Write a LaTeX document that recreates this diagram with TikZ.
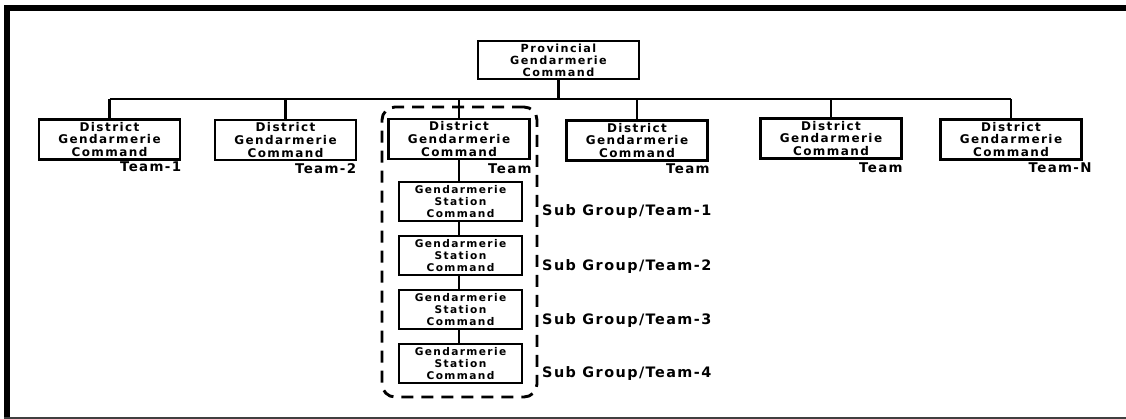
\documentclass[tikz,border=0pt]{standalone}
\usepackage{fontspec}
\usetikzlibrary{calc}
% wide bold faces for box and label text
\newfontfamily\dfont[LetterSpace=12]{DejaVu Sans Bold}
\newfontfamily\pfont[LetterSpace=13]{DejaVu Sans Bold}
\newfontfamily\sfont[LetterSpace=13]{DejaVu Sans Bold}
\newfontfamily\tfont[LetterSpace=10]{DejaVu Sans Bold}
\newfontfamily\gfont[LetterSpace=10]{DejaVu Sans Bold}
\begin{document}
\begin{tikzpicture}[x=1pt, y=-1pt,
  unit/.style={draw, line width=2.6pt, inner sep=0pt, align=center, fill=white},
  dgc/.style={unit, minimum width=141pt, minimum height=40pt,
    font=\dfont\fontsize{12}{12.6}\selectfont},
  pgc/.style={unit, minimum width=161pt, minimum height=38pt,
    font=\pfont\fontsize{11.2}{12}\selectfont},
  gsc/.style={unit, minimum width=123pt, minimum height=39pt,
    font=\sfont\fontsize{10.6}{11.6}\selectfont},
  teamlbl/.style={anchor=east, inner sep=0pt, font=\tfont\fontsize{13.4}{14}\selectfont},
  sublbl/.style={anchor=west, inner sep=0pt, font=\gfont\fontsize{14.4}{15}\selectfont},
  link/.style={line width=2.5pt},
  grpline/.style={line width=2.9pt, dash pattern=on 12pt off 8pt, rounded corners=13pt}]
\useasboundingbox (0,0) rectangle (1126,419);

% outer frame
\draw[line width=6pt] (7,419) -- (7,8) -- (1126,8);
\draw[line width=2pt, black!75] (4,417.8) -- (1126,417.8);

% provincial command
\node[pgc] (pgc) at (558.5,60) {Provincial\\Gendarmerie\\Command};

% district commands
\node[dgc] (d1) at (109.5,139.5) {District\\Gendarmerie\\Command};
\node[dgc] (d2) at (285.5,140) {District\\Gendarmerie\\Command};
\node[dgc] (d3) at (459,139) {District\\Gendarmerie\\Command};
\node[dgc] (d4) at (637,140.5) {District\\Gendarmerie\\Command};
\node[dgc] (d5) at (831,138.5) {District\\Gendarmerie\\Command};
\node[dgc] (d6) at (1011,139.5) {District\\Gendarmerie\\Command};

% team labels
\node[teamlbl] (t1) at ($(d1.south east)+(0,6)$) {Team-1};
\node[teamlbl] (t2) at ($(d2.south east)+(-1,7)$) {Team-2};
\node[teamlbl] (t3) at ($(d3.south east)+(1,8)$) {Team};
\node[teamlbl] (t4) at ($(d4.south east)+(1,7)$) {Team};
\node[teamlbl] (t5) at ($(d5.south east)+(0,8)$) {Team};
\node[teamlbl] (t6) at ($(d6.south east)+(9,6.5)$) {Team-N};

% station commands
\node[gsc] (s1) at (460.5,201.5) {Gendarmerie\\Station\\Command};
\node[gsc] (s2) at (460.5,255.5) {Gendarmerie\\Station\\Command};
\node[gsc] (s3) at (460.5,309.5) {Gendarmerie\\Station\\Command};
\node[gsc] (s4) at (460.5,363.5) {Gendarmerie\\Station\\Command};

% sub group labels
\node[sublbl] (g1) at (542,212) {Sub Group/Team-1};
\node[sublbl] (g2) at (542,267) {Sub Group/Team-2};
\node[sublbl] (g3) at (542,321) {Sub Group/Team-3};
\node[sublbl] (g4) at (542,374) {Sub Group/Team-4};

% dashed grouping
\node[draw, grpline, minimum width=155pt, minimum height=290pt, inner sep=0pt] (grp) at (459.5,252) {};

% tree connectors
\coordinate (bus) at (0,99);
\draw[link] (pgc.south) -- (pgc.south |- bus);
\draw[line width=2pt] (d1.north |- bus) -- (d6.north |- bus);
\foreach \d in {d1,d2,d3,d4,d5,d6}
  \draw[link] (\d.north |- bus) -- (\d.north);
\draw[link] (d3.south) -- (d3.south |- s1.north);
\draw[link] (s1.south -| d3.south) -- (d3.south |- s2.north);
\draw[link] (s2.south -| d3.south) -- (d3.south |- s3.north);
\draw[link] (s3.south -| d3.south) -- (d3.south |- s4.north);
\end{tikzpicture}
\end{document}
